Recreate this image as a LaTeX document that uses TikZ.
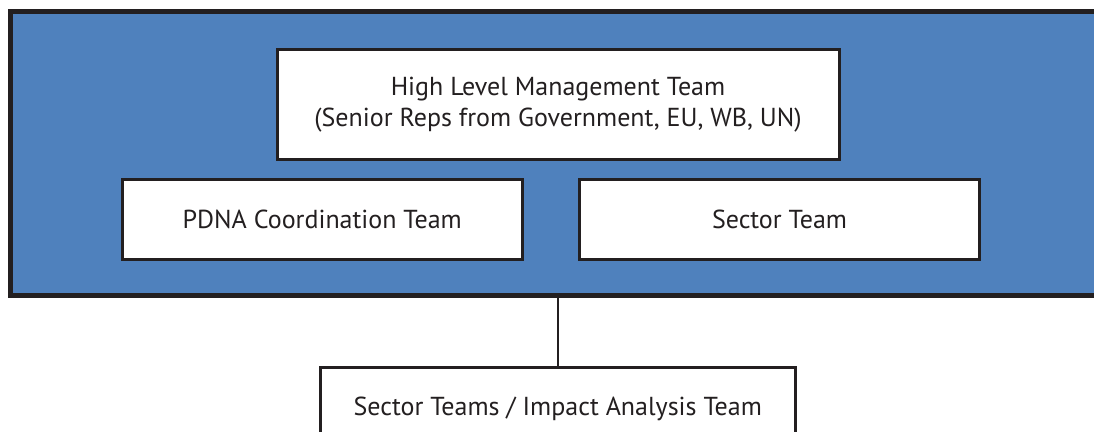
\documentclass[tikz,border=0pt]{standalone}
\usepackage{fontspec}
\setmainfont{PT Sans}
\definecolor{panelblue}{RGB}{79,129,189}
\definecolor{inkblack}{RGB}{35,31,32}
\tikzset{
    teambox/.style={draw=inkblack, line width=3pt, fill=white, text=inkblack,
        align=center, inner sep=0pt, font=\fontsize{26}{31}\selectfont},
    panel/.style={draw=inkblack, line width=5pt, fill=panelblue, inner sep=0pt},
}
\begin{document}
\begin{tikzpicture}[x=1pt, y=-1pt]
    \useasboundingbox (0,0) rectangle (1094,431);
    \clip (0,0) rectangle (1094,431);

    \node[panel, minimum width=1089.5pt, minimum height=284pt] (panel) at (555.25,153.5) {};

    \node[teambox, minimum width=562pt, minimum height=110pt] (hlmt) at (558,104.5)
        {High Level Management Team\\(Senior Reps from Government, EU, WB, UN)};
    \node[teambox, minimum width=399.5pt, minimum height=80pt] (pdna) at (322.25,219.5)
        {PDNA Coordination Team};
    \node[teambox, minimum width=400pt, minimum height=80pt] (sector) at (779.5,219.5)
        {Sector Team};

    \node[teambox, minimum width=474.5pt, minimum height=82pt] (impact) at (557.75,408.5)
        {Sector Teams / Impact Analysis Team};

    \draw[inkblack, line width=2pt] (impact.north) -- (impact.north |- panel.south);
\end{tikzpicture}
\end{document}
